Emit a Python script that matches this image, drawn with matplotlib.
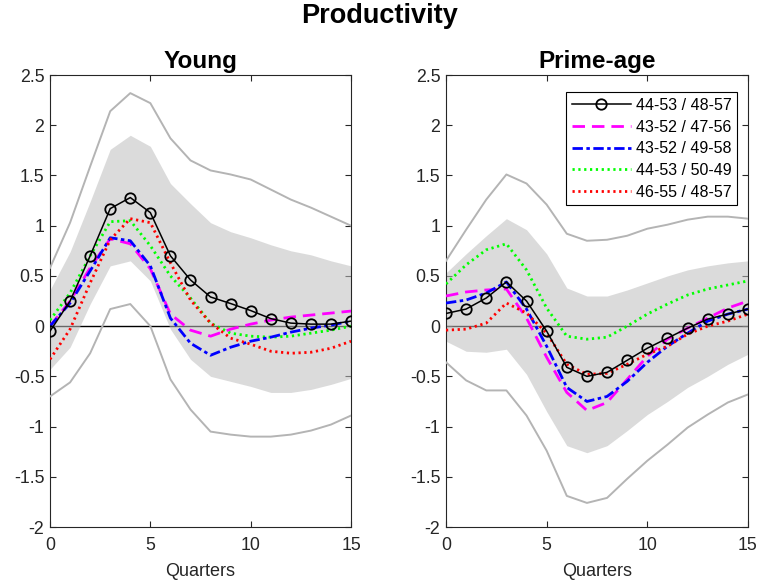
import matplotlib
matplotlib.use("Agg")
import matplotlib.pyplot as plt
import numpy as np

plt.rcParams['font.family'] = ['Liberation Sans', 'DejaVu Sans']
plt.rcParams['lines.scale_dashes'] = False

quarters = list(range(16))
labels = ["44-53 / 48-57", "43-52 / 47-56", "43-52 / 49-58", "44-53 / 50-49", "46-55 / 48-57"]

# Young panel
young_base = [-0.05, 0.25, 0.70, 1.17, 1.28, 1.13, 0.70, 0.46, 0.29, 0.225, 0.155, 0.075, 0.03, 0.02, 0.02, 0.05]
young_mag = [0.0, 0.25, 0.58, 0.87, 0.82, 0.57, 0.12, -0.04, -0.10, -0.03, 0.02, 0.06, 0.09, 0.11, 0.13, 0.15]
young_blue = [0.0, 0.23, 0.55, 0.88, 0.85, 0.60, 0.08, -0.17, -0.29, -0.21, -0.15, -0.11, -0.06, -0.02, 0.01, 0.05]
young_green = [0.06, 0.33, 0.70, 1.04, 1.05, 0.80, 0.50, 0.28, 0.03, -0.07, -0.10, -0.11, -0.10, -0.07, -0.04, 0.0]
young_red = [-0.33, -0.03, 0.43, 0.86, 1.07, 1.03, 0.63, 0.26, 0.03, -0.12, -0.18, -0.25, -0.27, -0.26, -0.22, -0.15]
young_band_hi = [0.36, 0.74, 1.24, 1.76, 1.90, 1.79, 1.42, 1.22, 1.03, 0.94, 0.88, 0.81, 0.75, 0.71, 0.65, 0.60]
young_band_lo = [-0.43, -0.21, 0.22, 0.60, 0.65, 0.45, -0.03, -0.33, -0.50, -0.55, -0.60, -0.66, -0.66, -0.63, -0.58, -0.52]
young_outer_hi = [0.58, 1.03, 1.59, 2.14, 2.32, 2.22, 1.87, 1.65, 1.55, 1.51, 1.46, 1.36, 1.26, 1.18, 1.09, 1.00]
young_outer_lo = [-0.70, -0.56, -0.27, 0.17, 0.22, 0.0, -0.53, -0.83, -1.05, -1.08, -1.10, -1.10, -1.08, -1.04, -0.98, -0.89]

# Prime-age panel
prime_base = [0.126, 0.17, 0.28, 0.44, 0.25, -0.05, -0.41, -0.50, -0.46, -0.34, -0.22, -0.12, -0.02, 0.07, 0.12, 0.17]
prime_mag = [0.30, 0.34, 0.36, 0.37, 0.08, -0.31, -0.66, -0.84, -0.76, -0.53, -0.30, -0.13, -0.02, 0.08, 0.18, 0.25]
prime_blue = [0.23, 0.26, 0.33, 0.44, 0.17, -0.20, -0.61, -0.75, -0.70, -0.55, -0.36, -0.20, -0.07, 0.05, 0.12, 0.17]
prime_green = [0.42, 0.61, 0.76, 0.82, 0.56, 0.18, -0.10, -0.13, -0.11, 0.0, 0.12, 0.22, 0.31, 0.37, 0.41, 0.45]
prime_red = [-0.04, -0.03, 0.03, 0.23, 0.13, -0.07, -0.38, -0.48, -0.47, -0.38, -0.28, -0.20, -0.08, 0.0, 0.05, 0.12]
prime_band_hi = [0.53, 0.72, 0.90, 1.07, 0.96, 0.72, 0.38, 0.30, 0.30, 0.36, 0.43, 0.50, 0.56, 0.60, 0.63, 0.65]
prime_band_lo = [-0.15, -0.25, -0.26, -0.23, -0.48, -0.85, -1.19, -1.26, -1.19, -1.04, -0.88, -0.75, -0.61, -0.50, -0.38, -0.28]
prime_outer_hi = [0.65, 0.96, 1.26, 1.51, 1.42, 1.21, 0.92, 0.85, 0.86, 0.90, 0.97, 1.01, 1.06, 1.09, 1.09, 1.07]
prime_outer_lo = [-0.36, -0.54, -0.64, -0.64, -0.89, -1.24, -1.69, -1.76, -1.71, -1.52, -1.34, -1.18, -1.01, -0.88, -0.76, -0.68]

yticks = [-2, -1.5, -1, -0.5, 0, 0.5, 1, 1.5, 2, 2.5]
ytick_labels = ["-2", "-1.5", "-1", "-0.5", "0", "0.5", "1", "1.5", "2", "2.5"]
xticks = [0, 5, 10, 15]

fig = plt.figure(figsize=(7.59, 5.88), dpi=100)
axL = fig.add_axes([0.0659, 0.1037, 0.3966, 0.7687])
axR = fig.add_axes([0.5876, 0.1037, 0.3979, 0.7687])

dark = '#262626'

def draw(ax, base, mag, blue, green, red, bhi, blo, ohi, olo, title):
    x = np.array(quarters)
    ax.plot([0, 15], [0, 0], color='black', lw=1.0, zorder=1)
    ax.fill_between(x, blo, bhi, color='#bebebe', alpha=0.55, lw=0, zorder=2)
    ax.plot(x, ohi, color='#b4b4b4', lw=1.4, zorder=3)
    ax.plot(x, olo, color='#b4b4b4', lw=1.4, zorder=3)
    h1, = ax.plot(x, base, color='black', lw=1.1, marker='o', ms=7.5, mfc='none',
                  mec='black', mew=1.3, zorder=8)
    h2, = ax.plot(x, mag, color='#ff00ff', lw=2.0, linestyle=(0, (9, 5)), zorder=5)
    h3, = ax.plot(x, blue, color='#0000ff', lw=2.0, linestyle=(0, (7.5, 2.5, 2.5, 2.5)), zorder=6)
    h4, = ax.plot(x, green, color='#00ff00', lw=2.0, linestyle=(0, (1.6, 2.6)), zorder=4)
    h5, = ax.plot(x, red, color='#ff0000', lw=2.0, linestyle=(0, (1.6, 2.6)), zorder=7)
    ax.set_xlim(0, 15)
    ax.set_ylim(-2, 2.5)
    ax.set_xticks(xticks)
    ax.set_xticklabels([str(t) for t in xticks])
    ax.set_yticks(yticks)
    ax.set_yticklabels(ytick_labels)
    ax.tick_params(direction='in', top=True, right=True, length=4, width=0.8,
                   colors=dark, labelsize=12.8)
    ax.tick_params(axis='x', pad=7)
    ax.tick_params(axis='y', pad=4)
    for s in ax.spines.values():
        s.set_color(dark)
        s.set_linewidth(0.8)
    ax.set_xlabel('Quarters', fontsize=13, color=dark, labelpad=7)
    ax.set_title(title, fontsize=17.5, fontweight='bold', pad=5)
    return [h1, h2, h3, h4, h5]

draw(axL, young_base, young_mag, young_blue, young_green, young_red,
     young_band_hi, young_band_lo, young_outer_hi, young_outer_lo, 'Young')
handles = draw(axR, prime_base, prime_mag, prime_blue, prime_green, prime_red,
               prime_band_hi, prime_band_lo, prime_outer_hi, prime_outer_lo, 'Prime-age')

leg = axR.legend(handles, labels, loc='upper right', bbox_to_anchor=(0.964, 0.962),
                 borderaxespad=0, fancybox=False, edgecolor='black', framealpha=1,
                 fontsize=11.5, handlelength=3.7, handletextpad=0.3, labelspacing=0.42,
                 borderpad=0.35)
leg.get_frame().set_linewidth(0.8)

fig.suptitle('Productivity', fontsize=19.5, fontweight='bold', y=0.995)

fig.savefig('out.png', dpi=100)
